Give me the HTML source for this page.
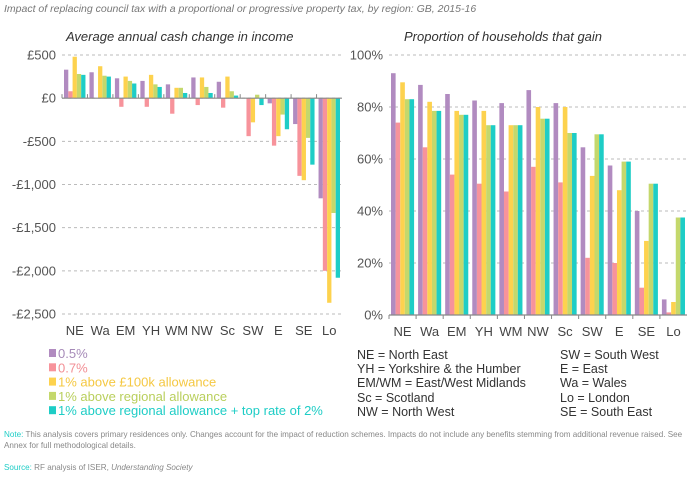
<!DOCTYPE html>
<html><head><meta charset="utf-8">
<style>
body{margin:0;background:#fff;width:690px;height:477px;overflow:hidden;font-family:"Liberation Sans",sans-serif;}
svg text{font-family:"Liberation Sans",sans-serif;}
</style></head>
<body>
<svg id="c" width="690" height="477">
<text x="4" y="12" font-size="10.5" font-style="italic" fill="#777">Impact of replacing council tax with a proportional or progressive property tax, by region: GB, 2015-16</text>
<text x="66" y="41" font-size="13" font-style="italic" fill="#333">Average annual cash change in income</text>
<text x="404" y="41" font-size="13" font-style="italic" fill="#333">Proportion of households that gain</text>
<g id="left"></g><g id="right"></g><g id="legend"></g>
<g font-size="12.5" fill="#333">
<text x="357" y="359">NE = North East</text>
<text x="357" y="373">YH = Yorkshire &amp; the Humber</text>
<text x="357" y="387">EM/WM = East/West Midlands</text>
<text x="357" y="402">Sc = Scotland</text>
<text x="357" y="416">NW = North West</text>
<text x="560" y="359">SW = South West</text>
<text x="560" y="373">E = East</text>
<text x="560" y="387">Wa = Wales</text>
<text x="560" y="402">Lo = London</text>
<text x="560" y="416">SE = South East</text>
</g>
<text x="4" y="437" font-size="8.1" fill="#888"><tspan fill="#1ecdc6">Note:</tspan> This analysis covers primary residences only. Changes account for the impact of reduction schemes. Impacts do not include any benefits stemming from additional revenue raised. See</text>
<text x="4" y="448" font-size="8.1" fill="#888">Annex for full methodological details.</text>
<text x="4" y="470" font-size="8.1" fill="#888"><tspan fill="#1ecdc6">Source:</tspan> RF analysis of ISER, <tspan font-style="italic">Understanding Society</tspan></text>
</svg>
<script>
const categories=["NE","Wa","EM","YH","WM","NW","Sc","SW","E","SE","Lo"];
const seriesNames=["0.5%","0.7%","1% above £100k allowance","1% above regional allowance","1% above regional allowance + top rate of 2%"];
const colors=["#b18bc0","#f7939b","#fdd24e","#c4d86c","#1ecdc6"];
const legendColors=["#a68ab8","#f28e94","#f5c842","#b9cf5c","#1ecdc6"];
const cash05=[330,300,230,200,160,240,190,0,-60,-300,-1160];
const cash07=[80,0,-100,-100,-180,-80,-110,-440,-550,-900,-2000];
const cash100k=[480,370,250,270,120,240,250,-280,-440,-950,-2370];
const cashRegional=[280,260,200,160,120,130,80,40,-190,-460,-1330];
const cashTop=[270,250,170,130,60,60,30,-80,-360,-770,-2080];
const gain05=[93,88.5,85,82.5,81.5,86.5,81.5,64.5,57.5,40,6];
const gain07=[74,64.5,54,50.5,47.5,57,51,22,20,10.5,1];
const gain100k=[89.5,82,78.5,78.5,73,80,80,53.5,48,28.5,5];
const gainRegional=[83,78.5,77,73,73,75.5,70,69.5,59,50.5,37.5];
const gainTop=[83,78.5,77,73,73,75.5,70,69.5,59,50.5,37.5];
const cashTicks=[500,0,-500,-1000,-1500,-2000,-2500];
const cashTickLabels=["£500","£0","-£500","-£1,000","-£1,500","-£2,000","-£2,500"];
const gainTicks=[100,80,60,40,20,0];
const gainTickLabels=["100%","80%","60%","40%","20%","0%"];

const NS="http://www.w3.org/2000/svg";
function mk(tag,attrs,parent){const e=document.createElementNS(NS,tag);for(const k in attrs)e.setAttribute(k,attrs[k]);parent.appendChild(e);return e;}

function panel(g,x0,x1,yTop,yBot,vMax,vMin,zeroV,series,ticks,labels,pfx,tickUp){
  const y=v=>yTop+(vMax-v)/(vMax-vMin)*(yBot-yTop);
  ticks.forEach((t,i)=>{
    const l=mk('line',{x1:x0,x2:x1,y1:y(t),y2:y(t),stroke:'#bbb','stroke-dasharray':'3,3','stroke-width':1},g);
    
    
    const tx=mk('text',{x:x0-6,y:y(t)+4.5,'text-anchor':'end','font-size':13,fill:'#555'},g);
    tx.textContent=labels[i];
    
    
  });
  const cw=(x1-x0)/categories.length;
  const bw=(cw-4)/5;
  categories.forEach((c,ci)=>{
    series.forEach((s,si)=>{
      const v=s[ci];
      const ya=y(Math.max(v,zeroV)),yb=y(Math.min(v,zeroV));
      const r=mk('rect',{x:x0+ci*cw+2+si*bw,y:ya,width:bw,height:Math.max(yb-ya,0),fill:colors[si]},g);
      
      
    });
    const tk=mk('line',{x1:x0+ci*cw,x2:x0+ci*cw,y1:y(zeroV),y2:y(zeroV)+(tickUp?-4:4),stroke:'#888'},g);
    
    
    const t=mk('text',{x:x0+ci*cw+cw/2,y:yBot+21,'text-anchor':'middle','font-size':13,fill:'#444'},g);
    t.textContent=c;
    
    
  });
  const ax=mk('line',{x1:x0,x2:x1,y1:y(zeroV),y2:y(zeroV),stroke:'#888','stroke-width':1.2},g);
  
  
}
panel(document.getElementById('left'),62,342,55,314,500,-2500,0,[cash05,cash07,cash100k,cashRegional,cashTop],cashTicks,cashTickLabels,'cash',true);
panel(document.getElementById('right'),389,687,55,315,100,0,0,[gain05,gain07,gain100k,gainRegional,gainTop],gainTicks,gainTickLabels,'gain',false);

const lg=document.getElementById('legend');
seriesNames.forEach((n,i)=>{
  const yy=353+i*14.3;
  const r=mk('rect',{x:49,y:yy-4,width:7,height:8,fill:colors[i]},lg);
  
  
  const t=mk('text',{x:58,y:yy+5,'font-size':13,fill:legendColors[i]},lg);
  t.textContent=n;
  
  
});
</script>
</body></html>
